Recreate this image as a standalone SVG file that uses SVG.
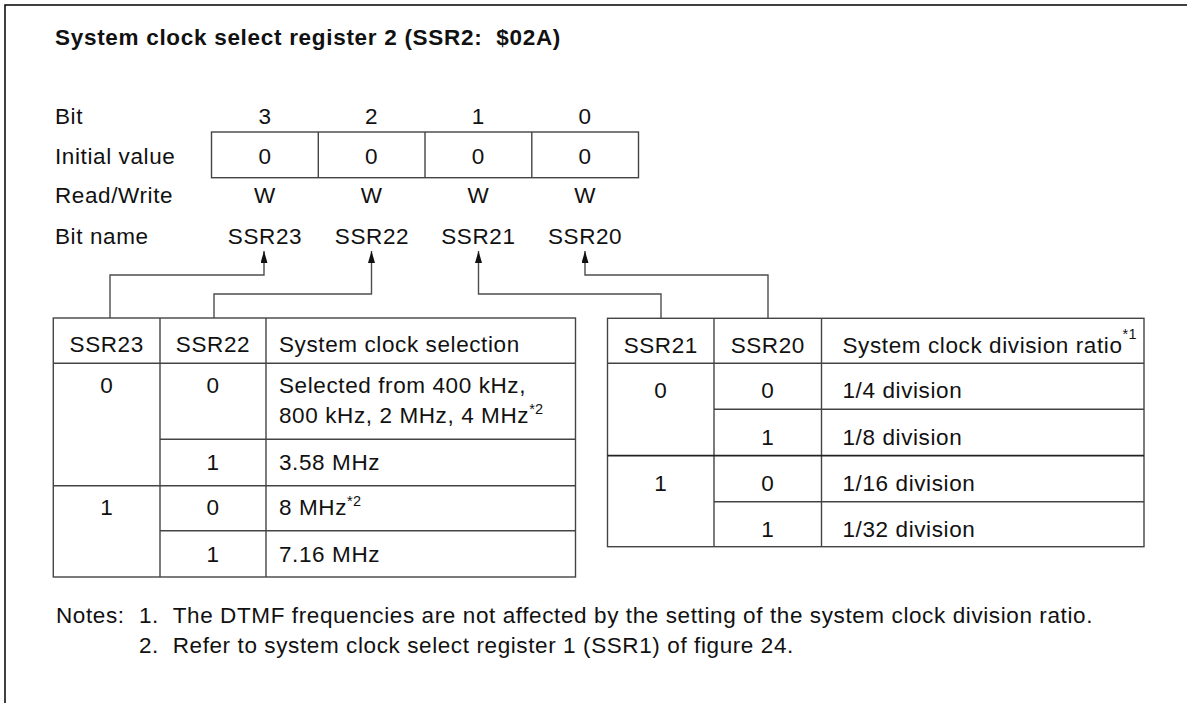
<svg xmlns="http://www.w3.org/2000/svg" width="1187" height="703" viewBox="0 0 1187 703">
<style>
text{font-family:"Liberation Sans",Arial,Helvetica,sans-serif;font-size:22.5px;letter-spacing:0.6px;fill:#111}
.t{font-weight:bold;letter-spacing:0.7px}
.c{text-anchor:middle}
.sup{font-size:14.5px;letter-spacing:0.3px}
.grid{fill:none;stroke:#444;stroke-width:1.4}
.ln{stroke:#444;stroke-width:1.4}
.conn{fill:none;stroke:#4d4d4d;stroke-width:1.4}
.frame{fill:none;stroke:#111;stroke-width:1.6}
</style>
<defs>
<marker id="ah" markerUnits="userSpaceOnUse" markerWidth="12" markerHeight="8" refX="12" refY="3.5" orient="auto">
<path d="M0,0 L12,3.5 L0,7 z" fill="#111"/>
</marker>
</defs>
<rect class="frame" x="5" y="5" width="1210" height="720"/>
<g id="title">
<text class="t" x="55" y="45">System clock select register 2 (SSR2:&#160; $02A)</text>
</g>
<g id="row-labels">
<text x="55" y="123.5">Bit</text>
<text x="55" y="163.5">Initial value</text>
<text x="55" y="202.5">Read/Write</text>
<text x="55" y="243.5">Bit name</text>
</g>
<g id="register">
<rect class="grid" x="211.5" y="132" width="427" height="45.7"/>
<line class="ln" x1="318.3" y1="132" x2="318.3" y2="177.7"/>
<line class="ln" x1="425" y1="132" x2="425" y2="177.7"/>
<line class="ln" x1="531.8" y1="132" x2="531.8" y2="177.7"/>
<text class="c" x="265" y="123.5">3</text>
<text class="c" x="371.6" y="123.5">2</text>
<text class="c" x="478.4" y="123.5">1</text>
<text class="c" x="585.1" y="123.5">0</text>
<text class="c" x="265" y="163.5">0</text>
<text class="c" x="371.6" y="163.5">0</text>
<text class="c" x="478.4" y="163.5">0</text>
<text class="c" x="585.1" y="163.5">0</text>
<text class="c" x="265" y="202.5">W</text>
<text class="c" x="371.6" y="202.5">W</text>
<text class="c" x="478.4" y="202.5">W</text>
<text class="c" x="585.1" y="202.5">W</text>
<text class="c" x="265" y="243.5">SSR23</text>
<text class="c" x="372" y="243.5">SSR22</text>
<text class="c" x="478.4" y="243.5">SSR21</text>
<text class="c" x="585.1" y="243.5">SSR20</text>
</g>
<g id="connectors">
<path class="conn" d="M110,318 V275 H264 V251" marker-end="url(#ah)"/>
<path class="conn" d="M214,318 V294 H371.5 V251" marker-end="url(#ah)"/>
<path class="conn" d="M661,318 V294 H478.5 V251" marker-end="url(#ah)"/>
<path class="conn" d="M768,318 V275 H585 V251" marker-end="url(#ah)"/>
</g>
<g id="table-clock-selection">
<rect class="grid" x="53.3" y="318" width="522.2" height="259"/>
<line class="ln" x1="160" y1="318" x2="160" y2="577"/>
<line class="ln" x1="266" y1="318" x2="266" y2="577"/>
<line class="ln" x1="53.3" y1="363.3" x2="575.5" y2="363.3"/>
<line class="ln" x1="160" y1="439.3" x2="575.5" y2="439.3"/>
<line class="ln" x1="53.3" y1="485.7" x2="575.5" y2="485.7"/>
<line class="ln" x1="160" y1="530.7" x2="575.5" y2="530.7"/>
<text class="c" x="106.7" y="351.5">SSR23</text>
<text class="c" x="213" y="351.5">SSR22</text>
<text x="279" y="351.5">System clock selection</text>
<text class="c" x="106.7" y="393.3">0</text>
<text class="c" x="213" y="393.3">0</text>
<text x="279" y="393.3">Selected from 400 kHz,</text>
<text x="279" y="423.3">800 kHz, 2 MHz, 4 MHz<tspan class="sup" dy="-9">*2</tspan></text>
<text class="c" x="213" y="470">1</text>
<text x="279" y="470">3.58 MHz</text>
<text class="c" x="106.7" y="515">1</text>
<text class="c" x="213" y="515">0</text>
<text x="279" y="515">8 MHz<tspan class="sup" dy="-9">*2</tspan></text>
<text class="c" x="213" y="561.7">1</text>
<text x="279" y="561.7">7.16 MHz</text>
</g>
<g id="table-division-ratio">
<rect class="grid" x="607.5" y="318.3" width="536.5" height="228.4"/>
<line class="ln" x1="714" y1="318.3" x2="714" y2="546.7"/>
<line class="ln" x1="821.5" y1="318.3" x2="821.5" y2="546.7"/>
<line class="ln" x1="607.5" y1="363.3" x2="1144" y2="363.3"/>
<line class="ln" x1="714" y1="409.3" x2="1144" y2="409.3"/>
<line x1="607.5" y1="455.7" x2="1144" y2="455.7" stroke="#222" stroke-width="1.8"/>
<line class="ln" x1="714" y1="501.7" x2="1144" y2="501.7"/>
<text class="c" x="660.8" y="352.5">SSR21</text>
<text class="c" x="767.8" y="352.5">SSR20</text>
<text x="842.5" y="352.5">System clock division ratio<tspan class="sup" dy="-14">*1</tspan></text>
<text class="c" x="660.8" y="398.3">0</text>
<text class="c" x="767.8" y="398.3">0</text>
<text x="842.5" y="398.3">1/4 division</text>
<text class="c" x="767.8" y="445">1</text>
<text x="842.5" y="445">1/8 division</text>
<text class="c" x="660.8" y="491">1</text>
<text class="c" x="767.8" y="491">0</text>
<text x="842.5" y="491">1/16 division</text>
<text class="c" x="767.8" y="537.3">1</text>
<text x="842.5" y="537.3">1/32 division</text>
</g>
<g id="notes">
<text x="56" y="623.3">Notes:</text>
<text x="139" y="623.3">1.</text>
<text x="172.7" y="623.3">The DTMF frequencies are not affected by the setting of the system clock division ratio.</text>
<text x="139" y="653.3">2.</text>
<text x="172.7" y="653.3">Refer to system clock select register 1 (SSR1) of figure 24.</text>
</g>
</svg>
